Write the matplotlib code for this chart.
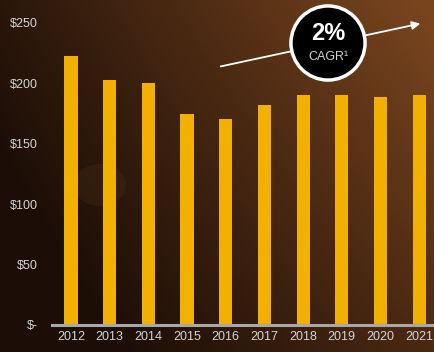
import numpy as np
import matplotlib.pyplot as plt
from matplotlib.patches import Circle

# ====================== data ======================
years = ["2012", "2013", "2014", "2015", "2016", "2017", "2018", "2019", "2020", "2021"]
values = [223, 203, 200, 175, 170.5, 182, 190, 190, 189, 190]
y_ticks = [0, 50, 100, 150, 200, 250]
y_labels = ["$-", "$50", "$100", "$150", "$200", "$250"]
cagr_text = "2%"
cagr_sub = "CAGR\u00b9"

plt.rcParams['font.family'] = ['Liberation Sans', 'DejaVu Sans']

fig = plt.figure(figsize=(4.35, 3.52), dpi=100)

# ---- background: dark brown gradient ----
bg = fig.add_axes([0, 0, 1, 1])
h, w = 352, 435
yy, xx = np.mgrid[0:h, 0:w]
xn = xx / w
yn = yy / h
t = np.clip(0.15 + 0.7 * xn - 0.35 * yn + 0.2 * xn * (1 - yn), 0, 1)
dark = np.array([0x1c, 0x0e, 0x07]) / 255
light = np.array([0x78, 0x44, 0x1e]) / 255
img = dark[None, None, :] * (1 - t[..., None]) + light[None, None, :] * t[..., None]
bg.imshow(img, aspect="auto", extent=[0, 1, 0, 1], origin="upper")
bg.add_patch(Circle((100 / w, 1 - 185 / h), 26 / w, transform=bg.transAxes,
                    color="#6a4a2a", alpha=0.15, lw=0))
bg.set_xlim(0, 1)
bg.set_ylim(0, 1)
bg.axis("off")

# ---- bar chart ----
ax = fig.add_axes([52 / 435, 27 / 352, 1 - 52 / 435, 325 / 352])
ax.patch.set_alpha(0)
x = np.arange(len(years))
ax.bar(x, values, width=0.34, color="#f2b000", zorder=2)
ax.set_xlim(-0.49, 9.41)
ax.set_ylim(0, 269)
ax.set_xticks(x)
ax.set_xticklabels(years)
ax.set_yticks(y_ticks)
ax.set_yticklabels(y_labels)
ax.tick_params(axis="both", length=0, colors="#d4d4d4", labelsize=9)
ax.tick_params(axis="y", pad=10)
ax.tick_params(axis="x", pad=4)
for s in ["top", "right", "left"]:
    ax.spines[s].set_visible(False)
ax.spines["bottom"].set_color("#a8a8a8")
ax.spines["bottom"].set_linewidth(2.2)

# ---- CAGR arrow + badge ----
bg.annotate("", xy=(423 / w, 1 - 23 / h), xytext=(218 / w, 1 - 67 / h),
            xycoords="axes fraction",
            arrowprops=dict(arrowstyle="-|>", color="white", lw=1.3, mutation_scale=12))
badge = fig.add_axes([(328 - 39) / w, 1 - (43 + 39) / h, 78 / w, 78 / h])
badge.set_xlim(-1, 1)
badge.set_ylim(-1, 1)
badge.axis("off")
badge.add_patch(Circle((0, 0), 0.95, facecolor="black", edgecolor="white", lw=2.5))
badge.text(0, 0.25, cagr_text, color="white", fontsize=17, fontweight="bold", ha="center", va="center")
badge.text(0, -0.36, cagr_sub, color="#d0d0d0", fontsize=9, ha="center", va="center")

fig.savefig("out.png", dpi=100)
